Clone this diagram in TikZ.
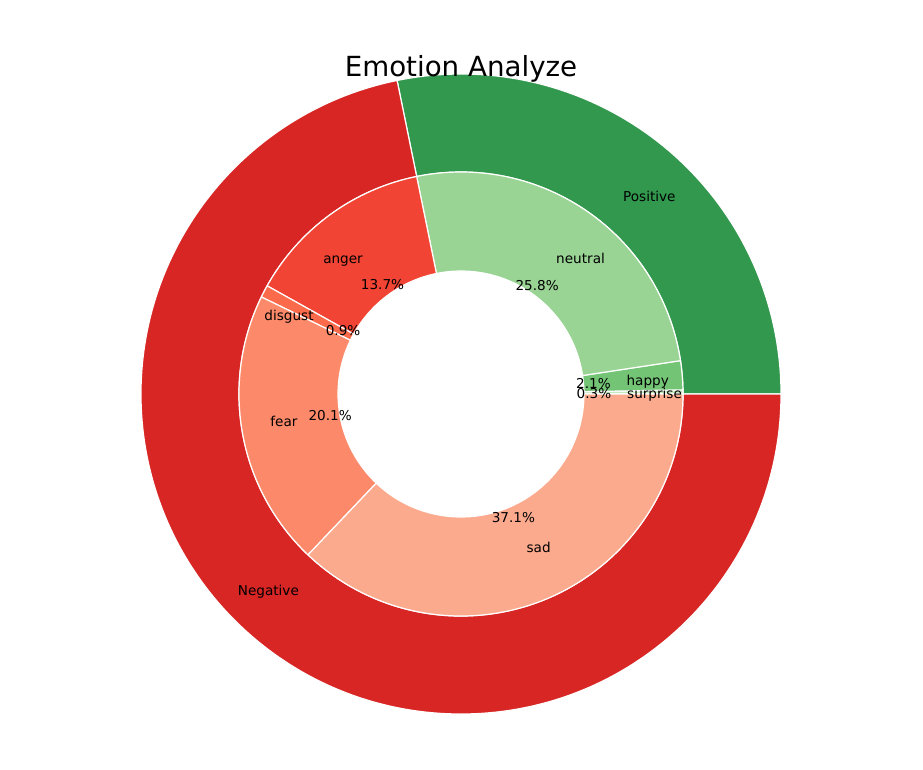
\documentclass[tikz,border=0pt]{standalone}
\usepackage{fontspec}
\setmainfont{DejaVu Sans}
\usepackage{xcolor}
\usepackage{tikz}

\definecolor{posgreen}{RGB}{50,152,78}
\definecolor{negred}{RGB}{215,38,36}
\definecolor{neutralgreen}{RGB}{153,212,148}
\definecolor{happygreen}{RGB}{116,196,118}
\definecolor{surprisegreen}{RGB}{199,233,192}
\definecolor{angerred}{RGB}{241,68,52}
\definecolor{disgustred}{RGB}{251,107,75}
\definecolor{fearred}{RGB}{252,138,106}
\definecolor{sadred}{RGB}{252,170,142}

\tikzset{
    wedge/.style={draw=white, line width=1.2pt, line join=round},
    lbl/.style={font=\fontsize{13.6}{16}\selectfont, inner sep=0pt, yshift=-6pt},
    lblleft/.style={font=\fontsize{13.6}{16}\selectfont, inner sep=0pt, yshift=-3pt},
    ttl/.style={font=\fontsize{27.7}{33}\selectfont, inner sep=0pt}
}

\begin{document}
\begin{tikzpicture}
    \useasboundingbox (-461pt,-375pt) rectangle (462pt,394pt);

    % outer ring
    \filldraw[wedge, fill=posgreen] (0:222pt) arc[start angle=0, end angle=101.52, radius=222pt] -- (101.52:320pt) arc[start angle=101.52, end angle=0, radius=320pt] -- cycle;
    \filldraw[wedge, fill=negred] (101.52:222pt) arc[start angle=101.52, end angle=360, radius=222pt] -- (360:320pt) arc[start angle=360, end angle=101.52, radius=320pt] -- cycle;

    % inner ring
    \filldraw[wedge, fill=surprisegreen] (0:123pt) arc[start angle=0, end angle=1.08, radius=123pt] -- (1.08:222pt) arc[start angle=1.08, end angle=0, radius=222pt] -- cycle;
    \filldraw[wedge, fill=happygreen] (1.08:123pt) arc[start angle=1.08, end angle=8.64, radius=123pt] -- (8.64:222pt) arc[start angle=8.64, end angle=1.08, radius=222pt] -- cycle;
    \filldraw[wedge, fill=neutralgreen] (8.64:123pt) arc[start angle=8.64, end angle=101.52, radius=123pt] -- (101.52:222pt) arc[start angle=101.52, end angle=8.64, radius=222pt] -- cycle;
    \filldraw[wedge, fill=angerred] (101.52:123pt) arc[start angle=101.52, end angle=150.84, radius=123pt] -- (150.84:222pt) arc[start angle=150.84, end angle=101.52, radius=222pt] -- cycle;
    \filldraw[wedge, fill=disgustred] (150.84:123pt) arc[start angle=150.84, end angle=154.08, radius=123pt] -- (154.08:222pt) arc[start angle=154.08, end angle=150.84, radius=222pt] -- cycle;
    \filldraw[wedge, fill=fearred] (154.08:123pt) arc[start angle=154.08, end angle=226.44, radius=123pt] -- (226.44:222pt) arc[start angle=226.44, end angle=154.08, radius=222pt] -- cycle;
    \filldraw[wedge, fill=sadred] (226.44:123pt) arc[start angle=226.44, end angle=360, radius=123pt] -- (360:222pt) arc[start angle=360, end angle=226.44, radius=222pt] -- cycle;

    % outer labels
    \node[lbl, anchor=base west] (positive) at (50.76:256pt) {Positive};
    \node[lblleft, anchor=base east] (negative) at (230.76:256pt) {Negative};

    % inner labels
    \node[lbl, anchor=base west] (surprise) at (0.54:166pt) {surprise};
    \node[lbl, anchor=base west] (happy) at (4.86:166pt) {happy};
    \node[lbl, anchor=base west] (neutral) at (55.08:166pt) {neutral};
    \node[lblleft, anchor=base east] (anger) at (126.18:166pt) {anger};
    \node[lblleft, anchor=base east] (disgust) at (152.46:166pt) {disgust};
    \node[lblleft, anchor=base east] (fear) at (190.26:166pt) {fear};
    \node[lbl, anchor=base west] (sad) at (293.22:166pt) {sad};

    % percentages
    \node[lbl, anchor=base] (pctsurprise) at (0.54:133pt) {0.3\%};
    \node[lbl, anchor=base] (pcthappy) at (4.86:133pt) {2.1\%};
    \node[lbl, anchor=base] (pctneutral) at (55.08:133pt) {25.8\%};
    \node[lblleft, anchor=base] (pctanger) at (126.18:133pt) {13.7\%};
    \node[lblleft, anchor=base] (pctdisgust) at (152.46:133pt) {0.9\%};
    \node[lblleft, anchor=base] (pctfear) at (190.26:133pt) {20.1\%};
    \node[lbl, anchor=base] (pctsad) at (293.22:133pt) {37.1\%};

    \node[ttl, anchor=base] (title) at (0pt,317pt) {Emotion Analyze};
\end{tikzpicture}
\end{document}
